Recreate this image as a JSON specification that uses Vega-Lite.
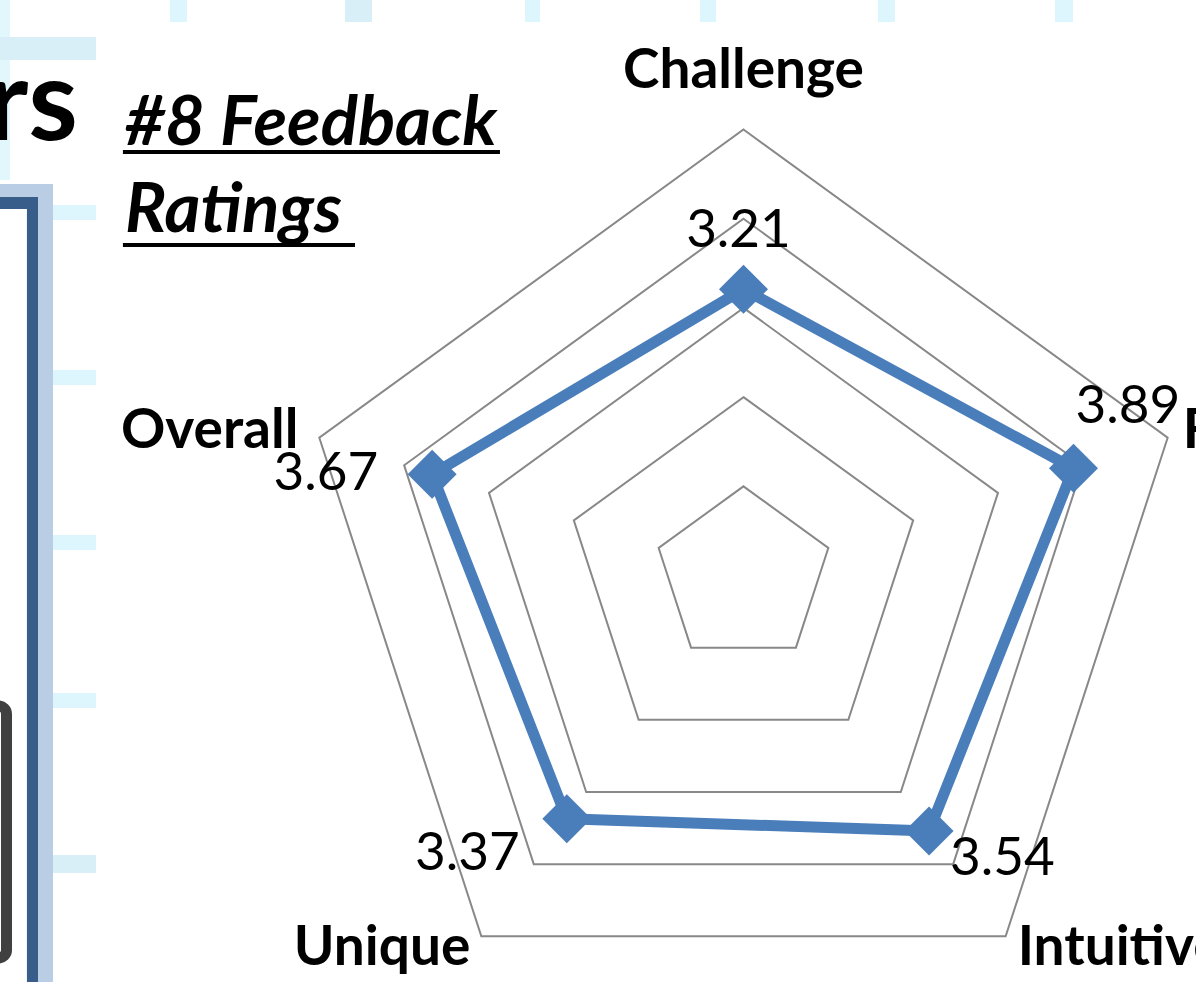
{
  "$schema": "https://vega.github.io/schema/vega-lite/v6.json",
  "width": 1196,
  "height": 982,
  "autosize": "none",
  "padding": 0,
  "background": "white",
  "config": {"view": {"stroke": null}},
  "data": {"values": [{}]},
  "datasets": {
    "ratings": [
      {"axis": "Challenge", "value": 3.21},
      {"axis": "Fun", "value": 3.89},
      {"axis": "Intuitive", "value": 3.54},
      {"axis": "Unique", "value": 3.37},
      {"axis": "Overall", "value": 3.67}
    ],
    "rings": [
      {"ring": 1, "axis": ["Challenge", "Fun", "Intuitive", "Unique", "Overall"]},
      {"ring": 2, "axis": ["Challenge", "Fun", "Intuitive", "Unique", "Overall"]},
      {"ring": 3, "axis": ["Challenge", "Fun", "Intuitive", "Unique", "Overall"]},
      {"ring": 4, "axis": ["Challenge", "Fun", "Intuitive", "Unique", "Overall"]},
      {"ring": 5, "axis": ["Challenge", "Fun", "Intuitive", "Unique", "Overall"]}
    ]
  },
  "encoding": {
    "x": {"type": "quantitative", "scale": {"type": "linear", "domain": [-8.335, 5.073], "nice": false, "zero": false}, "axis": null},
    "y": {"type": "quantitative", "scale": {"type": "linear", "domain": [-4.557, 6.452], "nice": false, "zero": false}, "axis": null}
  },
  "layer": [
    {"mark": {"type": "rect", "color": "#DDF5FC"}, "encoding": {"x": {"datum": -6.43, "type": "quantitative"}, "x2": {"datum": -6.239}, "y": {"datum": 6.5, "type": "quantitative"}, "y2": {"datum": 6.205}}},
    {"mark": {"type": "rect", "color": "#D8EFF8"}, "encoding": {"x": {"datum": -4.468, "type": "quantitative"}, "x2": {"datum": -4.165}, "y": {"datum": 6.5, "type": "quantitative"}, "y2": {"datum": 6.205}}},
    {"mark": {"type": "rect", "color": "#DDF5FC"}, "encoding": {"x": {"datum": -2.45, "type": "quantitative"}, "x2": {"datum": -2.281}, "y": {"datum": 6.5, "type": "quantitative"}, "y2": {"datum": 6.205}}},
    {"mark": {"type": "rect", "color": "#DDF5FC"}, "encoding": {"x": {"datum": -0.488, "type": "quantitative"}, "x2": {"datum": -0.308}, "y": {"datum": 6.5, "type": "quantitative"}, "y2": {"datum": 6.205}}},
    {"mark": {"type": "rect", "color": "#DDF5FC"}, "encoding": {"x": {"datum": 1.508, "type": "quantitative"}, "x2": {"datum": 1.698}, "y": {"datum": 6.5, "type": "quantitative"}, "y2": {"datum": 6.205}}},
    {"mark": {"type": "rect", "color": "#DDF5FC"}, "encoding": {"x": {"datum": 3.492, "type": "quantitative"}, "x2": {"datum": 3.694}, "y": {"datum": 6.5, "type": "quantitative"}, "y2": {"datum": 6.205}}},
    {"mark": {"type": "rect", "color": "#E2F7FC"}, "encoding": {"x": {"datum": -8.4, "type": "quantitative"}, "x2": {"datum": -8.223}, "y": {"datum": 6.5, "type": "quantitative"}, "y2": {"datum": 4.434}}},
    {"mark": {"type": "rect", "color": "#D8EFF8"}, "encoding": {"x": {"datum": -8.4, "type": "quantitative"}, "x2": {"datum": -7.259}, "y": {"datum": 6.037, "type": "quantitative"}, "y2": {"datum": 5.779}}},
    {"mark": {"type": "rect", "color": "#DDF5FC"}, "encoding": {"x": {"datum": -7.741, "type": "quantitative"}, "x2": {"datum": -7.259}, "y": {"datum": 4.154, "type": "quantitative"}, "y2": {"datum": 3.985}}},
    {"mark": {"type": "rect", "color": "#DDF5FC"}, "encoding": {"x": {"datum": -7.741, "type": "quantitative"}, "x2": {"datum": -7.259}, "y": {"datum": 2.304, "type": "quantitative"}, "y2": {"datum": 2.136}}},
    {"mark": {"type": "rect", "color": "#DDF5FC"}, "encoding": {"x": {"datum": -7.741, "type": "quantitative"}, "x2": {"datum": -7.259}, "y": {"datum": 0.454, "type": "quantitative"}, "y2": {"datum": 0.286}}},
    {"mark": {"type": "rect", "color": "#DDF5FC"}, "encoding": {"x": {"datum": -7.741, "type": "quantitative"}, "x2": {"datum": -7.259}, "y": {"datum": -1.317, "type": "quantitative"}, "y2": {"datum": -1.485}}},
    {"mark": {"type": "rect", "color": "#D8EFF8"}, "encoding": {"x": {"datum": -7.741, "type": "quantitative"}, "x2": {"datum": -7.259}, "y": {"datum": -3.134, "type": "quantitative"}, "y2": {"datum": -3.336}}},
    {"mark": {"type": "rect", "color": "#B9CDE5"}, "encoding": {"x": {"datum": -8.4, "type": "quantitative"}, "x2": {"datum": -7.741}, "y": {"datum": 4.389, "type": "quantitative"}, "y2": {"datum": 4.244}}},
    {"mark": {"type": "rect", "color": "#B9CDE5"}, "encoding": {"x": {"datum": -7.909, "type": "quantitative"}, "x2": {"datum": -7.741}, "y": {"datum": 4.389, "type": "quantitative"}, "y2": {"datum": -4.6}}},
    {"mark": {"type": "rect", "color": "#385D8A"}, "encoding": {"x": {"datum": -8.4, "type": "quantitative"}, "x2": {"datum": -7.909}, "y": {"datum": 4.244, "type": "quantitative"}, "y2": {"datum": 4.109}}},
    {"mark": {"type": "rect", "color": "#385D8A"}, "encoding": {"x": {"datum": -8.033, "type": "quantitative"}, "x2": {"datum": -7.909}, "y": {"datum": 4.244, "type": "quantitative"}, "y2": {"datum": -4.6}}},
    {"mark": {"type": "rect", "fill": null, "fillOpacity": 0, "stroke": "#404040", "strokeWidth": 11, "cornerRadius": 8}, "encoding": {"x": {"datum": -8.672, "type": "quantitative"}, "x2": {"datum": -8.262}, "y": {"datum": -1.463, "type": "quantitative"}, "y2": {"datum": -4.288}}},
    {
      "mark": {"type": "text", "text": "rs", "align": "right", "baseline": "alphabetic", "font": "Lato", "fontWeight": "bold", "fontSize": 113, "color": "#000000"},
      "encoding": {"x": {"datum": -7.461, "type": "quantitative"}, "y": {"datum": 4.882, "type": "quantitative"}}
    },
    {
      "mark": {"type": "text", "text": "#8 Feedback", "align": "left", "baseline": "alphabetic", "font": "Lato", "fontWeight": "bold", "fontStyle": "italic", "fontSize": 69, "color": "#000000"},
      "encoding": {"x": {"datum": -6.935, "type": "quantitative"}, "y": {"datum": 4.826, "type": "quantitative"}}
    },
    {
      "mark": {"type": "text", "text": "Ratings", "align": "left", "baseline": "alphabetic", "font": "Lato", "fontWeight": "bold", "fontStyle": "italic", "fontSize": 69, "color": "#000000"},
      "encoding": {"x": {"datum": -6.935, "type": "quantitative"}, "y": {"datum": 3.851, "type": "quantitative"}}
    },
    {
      "mark": {"type": "rule", "color": "#000000", "strokeWidth": 4},
      "encoding": {"x": {"datum": -6.957, "type": "quantitative"}, "x2": {"datum": -2.73}, "y": {"datum": 4.748, "type": "quantitative"}}
    },
    {
      "mark": {"type": "rule", "color": "#000000", "strokeWidth": 4},
      "encoding": {"x": {"datum": -6.957, "type": "quantitative"}, "x2": {"datum": -4.355}, "y": {"datum": 3.705, "type": "quantitative"}}
    },
    {
      "data": {"name": "rings"},
      "transform": [
        {"flatten": ["axis"]},
        {"window": [{"op": "row_number", "as": "idx"}], "groupby": ["ring"]},
        {"calculate": "(datum.idx - 1) * 2 * PI / 5", "as": "ang"},
        {"calculate": "datum.ring * sin(datum.ang)", "as": "x"},
        {"calculate": "datum.ring * cos(datum.ang)", "as": "y"}
      ],
      "mark": {"type": "line", "interpolate": "linear-closed", "color": "#888888", "strokeWidth": 2},
      "encoding": {
        "x": {"field": "x", "type": "quantitative"},
        "y": {"field": "y", "type": "quantitative"},
        "detail": {"field": "ring", "type": "nominal"},
        "order": {"field": "idx", "type": "quantitative"}
      }
    },
    {
      "data": {"name": "ratings"},
      "transform": [
        {"window": [{"op": "row_number", "as": "idx"}]},
        {"calculate": "(datum.idx - 1) * 2 * PI / 5", "as": "ang"},
        {"calculate": "datum.value * sin(datum.ang)", "as": "x"},
        {"calculate": "datum.value * cos(datum.ang)", "as": "y"},
        {"calculate": "5 * sin(datum.ang)", "as": "lx"},
        {"calculate": "5 * cos(datum.ang)", "as": "ly"}
      ],
      "encoding": {
        "x": {"field": "x", "type": "quantitative"},
        "y": {"field": "y", "type": "quantitative"}
      },
      "layer": [
        {
          "mark": {"type": "line", "interpolate": "linear-closed", "color": "#4A7EBB", "strokeWidth": 11, "strokeJoin": "round"},
          "encoding": {"order": {"field": "idx", "type": "quantitative"}}
        },
        {
          "mark": {"type": "point", "shape": "diamond", "filled": true, "size": 2400, "color": "#4A7EBB", "opacity": 1}
        },
        {
          "transform": [{"filter": "datum.axis === 'Challenge'"}],
          "mark": {"type": "text", "align": "center", "baseline": "alphabetic", "dx": -5, "dy": -42, "font": "Lato", "fontSize": 53, "color": "#000000"},
          "encoding": {"text": {"field": "value", "type": "quantitative", "format": ".2f"}}
        },
        {
          "transform": [{"filter": "datum.axis === 'Fun'"}],
          "mark": {"type": "text", "align": "left", "baseline": "alphabetic", "dx": 2, "dy": -45, "font": "Lato", "fontSize": 53, "color": "#000000"},
          "encoding": {"text": {"field": "value", "type": "quantitative", "format": ".2f"}}
        },
        {
          "transform": [{"filter": "datum.axis === 'Intuitive'"}],
          "mark": {"type": "text", "align": "left", "baseline": "alphabetic", "dx": 21, "dy": 44, "font": "Lato", "fontSize": 53, "color": "#000000"},
          "encoding": {"text": {"field": "value", "type": "quantitative", "format": ".2f"}}
        },
        {
          "transform": [{"filter": "datum.axis === 'Unique'"}],
          "mark": {"type": "text", "align": "right", "baseline": "alphabetic", "dx": -47, "dy": 51, "font": "Lato", "fontSize": 53, "color": "#000000"},
          "encoding": {"text": {"field": "value", "type": "quantitative", "format": ".2f"}}
        },
        {
          "transform": [{"filter": "datum.axis === 'Overall'"}],
          "mark": {"type": "text", "align": "right", "baseline": "alphabetic", "dx": -54, "dy": 16, "font": "Lato", "fontSize": 53, "color": "#000000"},
          "encoding": {"text": {"field": "value", "type": "quantitative", "format": ".2f"}}
        },
        {
          "transform": [{"filter": "datum.axis === 'Challenge'"}],
          "mark": {"type": "text", "align": "center", "baseline": "alphabetic", "dx": 0, "dy": -42, "font": "Lato", "fontWeight": "bold", "fontSize": 55, "color": "#000000"},
          "encoding": {"x": {"field": "lx", "type": "quantitative"}, "y": {"field": "ly", "type": "quantitative"}, "text": {"field": "axis", "type": "nominal"}}
        },
        {
          "transform": [{"filter": "datum.axis === 'Fun'"}],
          "mark": {"type": "text", "align": "left", "baseline": "alphabetic", "dx": 15, "dy": 10, "font": "Lato", "fontWeight": "bold", "fontSize": 55, "color": "#000000"},
          "encoding": {"x": {"field": "lx", "type": "quantitative"}, "y": {"field": "ly", "type": "quantitative"}, "text": {"field": "axis", "type": "nominal"}}
        },
        {
          "transform": [{"filter": "datum.axis === 'Intuitive'"}],
          "mark": {"type": "text", "align": "left", "baseline": "alphabetic", "dx": 12, "dy": 29, "font": "Lato", "fontWeight": "bold", "fontSize": 55, "color": "#000000"},
          "encoding": {"x": {"field": "lx", "type": "quantitative"}, "y": {"field": "ly", "type": "quantitative"}, "text": {"field": "axis", "type": "nominal"}}
        },
        {
          "transform": [{"filter": "datum.axis === 'Unique'"}],
          "mark": {"type": "text", "align": "right", "baseline": "alphabetic", "dx": -11, "dy": 29, "font": "Lato", "fontWeight": "bold", "fontSize": 55, "color": "#000000"},
          "encoding": {"x": {"field": "lx", "type": "quantitative"}, "y": {"field": "ly", "type": "quantitative"}, "text": {"field": "axis", "type": "nominal"}}
        },
        {
          "transform": [{"filter": "datum.axis === 'Overall'"}],
          "mark": {"type": "text", "align": "right", "baseline": "alphabetic", "dx": -21, "dy": 10, "font": "Lato", "fontWeight": "bold", "fontSize": 55, "color": "#000000"},
          "encoding": {"x": {"field": "lx", "type": "quantitative"}, "y": {"field": "ly", "type": "quantitative"}, "text": {"field": "axis", "type": "nominal"}}
        }
      ]
    }
  ]
}
